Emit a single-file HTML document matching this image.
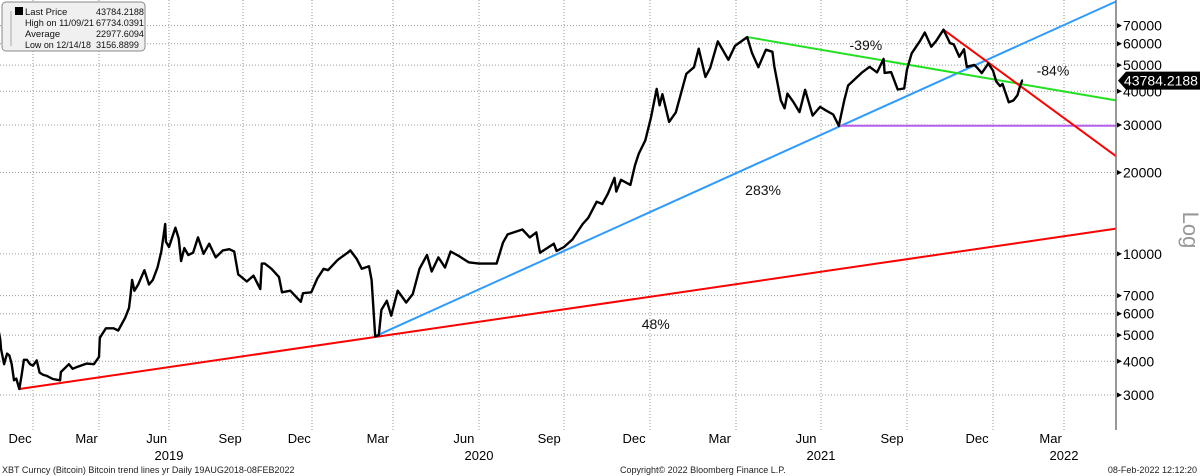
<!DOCTYPE html>
<html><head><meta charset="utf-8"><style>
html,body{margin:0;padding:0;background:#fff;width:1200px;height:476px;overflow:hidden;font-family:"Liberation Sans",sans-serif}
svg{display:block}
</style></head><body>
<svg id="chart" width="1200" height="476" viewBox="0 0 1200 476" xmlns="http://www.w3.org/2000/svg">
<g id="grid"></g>
<g id="trends"></g>
<g id="series"></g>
<g id="yaxis"></g>
<g id="xaxis"></g>
<g id="notes"></g>
<g>
<rect x="2" y="2" width="143" height="49" rx="4" fill="#f0f0f0" stroke="#888" stroke-width="1"/>
<rect x="15" y="7" width="8" height="8" fill="#000"/>
<line x1="11" y1="11" x2="11" y2="46" stroke="#aaa" stroke-width="1"/>
<g font-size="9.5" fill="#111">
<text x="25" y="15">Last Price</text><text x="96" y="15" textLength="48" lengthAdjust="spacingAndGlyphs">43784.2188</text>
<text x="25" y="26" textLength="69" lengthAdjust="spacingAndGlyphs">High on 11/09/21</text><text x="96" y="26" textLength="48" lengthAdjust="spacingAndGlyphs">67734.0391</text>
<text x="25" y="37">Average</text><text x="96" y="37" textLength="48" lengthAdjust="spacingAndGlyphs">22977.6094</text>
<text x="25" y="48" textLength="66" lengthAdjust="spacingAndGlyphs">Low on 12/14/18</text><text x="96" y="48" textLength="43" lengthAdjust="spacingAndGlyphs">3156.8899</text>
</g>
</g>
<text x="1183" y="230" font-size="22" fill="#999" transform="rotate(90 1183 230)" text-anchor="middle">Log</text>
<g font-size="9" fill="#222">
<text x="2" y="473">XBT Curncy (Bitcoin) Bitcoin trend lines yr  Daily 19AUG2018-08FEB2022</text>
<text x="620" y="473">Copyright© 2022 Bloomberg Finance L.P.</text>
<text x="1197" y="473" text-anchor="end">08-Feb-2022 12:12:20</text>
</g>
</svg>
<script>
const priceDates=["2018-11-13","2018-11-15","2018-11-19","2018-11-20","2018-11-24","2018-11-25","2018-11-28","2018-12-01","2018-12-04","2018-12-07","2018-12-10","2018-12-14","2018-12-17","2018-12-20","2018-12-24","2018-12-28","2019-01-01","2019-01-06","2019-01-10","2019-01-15","2019-01-20","2019-01-28","2019-02-07","2019-02-08","2019-02-19","2019-02-24","2019-03-03","2019-03-15","2019-03-25","2019-04-01","2019-04-02","2019-04-10","2019-04-20","2019-04-26","2019-05-05","2019-05-10","2019-05-12","2019-05-14","2019-05-17","2019-05-22","2019-05-30","2019-06-05","2019-06-10","2019-06-16","2019-06-21","2019-06-26","2019-06-27","2019-07-01","2019-07-09","2019-07-13","2019-07-16","2019-07-20","2019-07-25","2019-07-31","2019-08-06","2019-08-13","2019-08-20","2019-08-28","2019-09-06","2019-09-14","2019-09-20","2019-09-25","2019-10-06","2019-10-15","2019-10-24","2019-10-26","2019-10-30","2019-11-08","2019-11-18","2019-11-22","2019-12-03","2019-12-17","2019-12-20","2019-12-31","2020-01-07","2020-01-14","2020-01-19","2020-01-30","2020-02-10","2020-02-13","2020-02-20","2020-02-26","2020-03-05","2020-03-08","2020-03-12","2020-03-16","2020-03-19","2020-03-25","2020-03-30","2020-04-06","2020-04-15","2020-04-22","2020-04-29","2020-05-07","2020-05-12","2020-05-19","2020-05-26","2020-06-01","2020-06-10","2020-06-20","2020-07-01","2020-07-20","2020-07-27","2020-08-01","2020-08-17","2020-08-25","2020-09-01","2020-09-05","2020-09-20","2020-09-23","2020-10-01","2020-10-10","2020-10-21","2020-10-27","2020-11-05","2020-11-11","2020-11-17","2020-11-24","2020-11-26","2020-12-01","2020-12-11","2020-12-16","2020-12-20","2020-12-27","2021-01-02","2021-01-08","2021-01-11","2021-01-14","2021-01-21","2021-01-28","2021-02-08","2021-02-16","2021-02-21","2021-02-28","2021-03-05","2021-03-13","2021-03-24","2021-03-31","2021-04-13","2021-04-18","2021-04-25","2021-05-03","2021-05-10","2021-05-12","2021-05-19","2021-05-23","2021-05-26","2021-06-01","2021-06-08","2021-06-14","2021-06-22","2021-06-30","2021-07-06","2021-07-14","2021-07-20","2021-07-26","2021-07-30","2021-08-07","2021-08-14","2021-08-22","2021-08-30","2021-09-06","2021-09-07","2021-09-14","2021-09-21","2021-09-28","2021-10-01","2021-10-06","2021-10-15","2021-10-20","2021-10-27","2021-11-01","2021-11-09","2021-11-16","2021-11-20","2021-11-26","2021-12-01","2021-12-04","2021-12-12","2021-12-15","2021-12-20","2021-12-27","2022-01-01","2022-01-05","2022-01-10","2022-01-13","2022-01-21","2022-01-24","2022-01-27","2022-02-01","2022-02-04","2022-02-07","2022-02-08"];
const priceValues=[5600,5560,4800,4450,3900,4000,4270,4200,3900,3400,3450,3157,3550,4050,4050,3900,3850,4030,3630,3560,3530,3440,3400,3650,3900,3750,3820,3920,3900,4150,4880,5300,5300,5200,5800,6300,7000,8000,7300,7700,8700,7700,8000,8900,10200,12900,11100,10600,12500,11400,9400,10500,9900,10100,11500,10000,10900,9700,10300,10400,10200,8400,7900,8300,7400,9200,9200,8800,8200,7200,7300,6640,7150,7200,8100,8800,8700,9500,10100,10300,9600,8800,9000,8000,4950,5000,6200,6700,5900,7300,6600,7100,8800,9900,8600,9700,8900,10200,9800,9300,9200,9200,11000,11800,12300,11500,12000,10100,10900,10250,10600,11300,12900,13600,15600,15300,16700,19100,17000,18800,18000,21300,23500,26300,32000,40800,35500,39000,30800,33400,46400,49100,57500,45200,48800,61200,52300,58900,63500,55600,49100,57000,56000,49500,37000,34600,39200,36700,33500,40500,32500,35000,34000,32800,29800,37200,42000,44600,47000,49300,47000,52700,46800,47100,40600,41000,48200,55300,61500,66000,58500,61300,67600,60300,59700,53700,57200,49300,50100,48900,46700,50700,47700,43500,41800,42600,36400,36700,37000,38700,41500,43800,43784.2188];
const yTicks=[3000,4000,5000,6000,7000,10000,20000,30000,40000,50000,60000,70000];
const quarterDates=["2018-10-01","2019-01-01","2019-04-01","2019-07-01","2019-10-01","2020-01-01","2020-04-01","2020-07-01","2020-10-01","2021-01-01","2021-04-01","2021-07-01","2021-10-01","2022-01-01","2022-04-01","2022-07-01"];
const monthLabels=["Dec","Mar","Jun","Sep","Dec","Mar","Jun","Sep","Dec","Mar","Jun","Sep","Dec","Mar"];
const monthLabelDates=["2018-12-15","2019-03-15","2019-06-15","2019-09-15","2019-12-15","2020-03-15","2020-06-15","2020-09-15","2020-12-15","2021-03-15","2021-06-15","2021-09-15","2021-12-15","2022-03-15"];
const yearLabels=["2019","2020","2021","2022"];
const yearLabelDates=["2019-07-01","2020-07-01","2021-07-01","2022-04-01"];
// trend lines: start point to value at right axis edge
const trendNames=["trend-48pct","trend-283pct","trend-minus39pct","support-30000","trend-minus84pct"];
const trendColors=["#ff0000","#2f9bff","#22e022","#b660f0","#ff0000"];
const trendStartDates=["2018-12-14","2020-03-12","2021-04-13","2021-07-20","2021-11-09"];
const trendStartValues=[3157,4950,63500,29800,67600];
const trendEndValues=[12400,86000,37000,29800,23000];
const notesText=["-39%","-84%","283%","48%"];
const notesDates=["2021-08-18","2022-03-18","2021-04-30","2021-01-07"];
const notesValues=[56800,45800,16500,5270];

const AX=1116, PLOT_BOTTOM=430;
const quarterPx=[-37,33,99,169,243,312,393,479,564,650,736,821,907,993,1064,1135];
function day(s){return Date.parse(s)/86400000;}
const qDays=quarterDates.map(day);
function x(s){const d=typeof s==="number"?s:day(s);
  for(let i=0;i<qDays.length-1;i++){ if(d<=qDays[i+1]||i===qDays.length-2){const t=(d-qDays[i])/(qDays[i+1]-qDays[i]);return quarterPx[i]+t*(quarterPx[i+1]-quarterPx[i]);}}}
function y(v){return 395-270*Math.log10(v/3000);}
const NS="http://www.w3.org/2000/svg";
function mk(tag,attrs,parent){const e=document.createElementNS(NS,tag);for(const k in attrs)e.setAttribute(k,attrs[k]);parent.appendChild(e);return e;}

const grid=document.getElementById('grid');
yTicks.forEach(v=>{const l=mk('line',{x1:0,x2:AX,y1:y(v),y2:y(v),stroke:'#999','stroke-width':1,'stroke-dasharray':'1 2'},grid);
  
  });
quarterDates.slice(1,15).forEach(d=>{const l=mk('line',{x1:x(d),x2:x(d),y1:0,y2:PLOT_BOTTOM,stroke:'#999','stroke-width':1,'stroke-dasharray':'1 2'},grid);
  
  });

const trends=document.getElementById('trends');
trendNames.forEach((n,i)=>{
  const l=mk('line',{x1:x(trendStartDates[i]),y1:y(trendStartValues[i]),x2:AX,y2:y(trendEndValues[i]),stroke:trendColors[i],'stroke-width':2},trends);
  
  });

const series=document.getElementById('series');
const pts=priceDates.map((d,i)=>x(d).toFixed(1)+','+y(priceValues[i]).toFixed(1)).join(' ');
const pl=mk('polyline',{points:pts,fill:'none',stroke:'#000','stroke-width':2.4,'stroke-linejoin':'round'},series);



const yax=document.getElementById('yaxis');
mk('line',{x1:AX,x2:AX,y1:0,y2:PLOT_BOTTOM,stroke:'#777','stroke-width':1.5},yax);
yTicks.forEach(v=>{const yy=y(v);
  mk('path',{d:`M${AX+1},${yy-2.5} L${AX+6},${yy} L${AX+1},${yy+2.5}Z`,fill:'#000'},yax);
  const t=mk('text',{x:AX+7,y:yy+5,'font-size':14,fill:'#000'},yax);t.textContent=v;
  
  });
const last=priceValues[priceValues.length-1], ly=y(last);
const badge=mk('path',{d:`M${AX+2},${ly} L${AX+10},${ly-9} L1200,${ly-9} L1200,${ly+9} L${AX+10},${ly+9}Z`,fill:'#000'},yax);


const bt=mk('text',{x:AX+8,y:ly+5,'font-size':14,fill:'#fff'},yax);bt.textContent=last.toFixed(4);

const xax=document.getElementById('xaxis');
monthLabels.forEach((m,i)=>{const t=mk('text',{x:x(monthLabelDates[i]),y:443,'font-size':13,'text-anchor':'middle',fill:'#000'},xax);t.textContent=m;
  
  });
yearLabels.forEach((m,i)=>{const t=mk('text',{x:x(yearLabelDates[i]),y:460,'font-size':13,'text-anchor':'middle',fill:'#000'},xax);t.textContent=m;
  
  });

const notes=document.getElementById('notes');
notesText.forEach((s,i)=>{const t=mk('text',{x:x(notesDates[i]),y:y(notesValues[i]),'font-size':14,'text-anchor':'middle',fill:'#111'},notes);t.textContent=s;
  
  });
</script>
</body></html>
